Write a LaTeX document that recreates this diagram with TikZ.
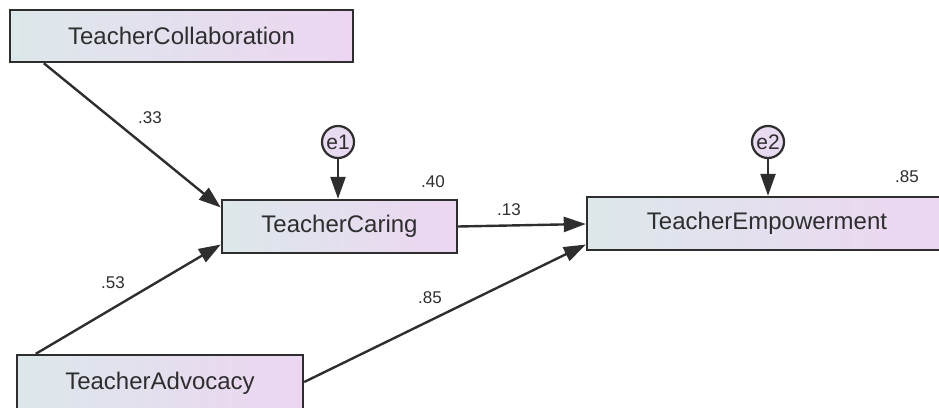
\documentclass[tikz,border=0pt]{standalone}
\usepackage{fontspec}
\setmainfont{Liberation Sans}
\usetikzlibrary{arrows.meta,calc}
\definecolor{inkgray}{HTML}{2E2E2E}
\definecolor{boxleft}{HTML}{DCE8EA}
\definecolor{boxright}{HTML}{EDD6F2}
\definecolor{errfill}{HTML}{E8DAF0}
\tikzset{
  varbox/.style={draw=inkgray, line width=2.4pt, left color=boxleft, right color=boxright,
    shading angle=90, text=inkgray, font=\fontsize{24}{24}\selectfont,
    inner sep=0pt, anchor=center},
  errnode/.style={draw=inkgray, line width=2.2pt, circle, fill=errfill, minimum size=32pt,
    inner sep=0pt, text=inkgray, font=\fontsize{21}{21}\selectfont},
  path/.style={draw=inkgray, line width=2.4pt, -{Triangle[length=22pt,width=15pt]}},
  coef/.style={text=inkgray, font=\fontsize{17}{17}\selectfont, inner sep=0pt}
}
\begin{document}
\begin{tikzpicture}[x=1pt,y=-1pt]
  \useasboundingbox (0,0) rectangle (939,407);
  \clip (0,0) rectangle (939,407);

  % observed variables
  \node[varbox, minimum width=343pt, minimum height=52pt] (coll) at (181.5,36) {TeacherCollaboration};
  \node[varbox, minimum width=235pt, minimum height=53pt] (caring) at (339.5,226.5) {TeacherCaring};
  \node[varbox, minimum width=360pt, minimum height=53pt] (emp) at (767,223.5) {TeacherEmpowerment};
  \node[varbox, minimum width=286pt, minimum height=56pt] (adv) at (160,383) {TeacherAdvocacy};

  % error terms
  \node[errnode] (e1) at (338,142) {e1};
  \node[errnode] (e2) at (768,142) {e2};

  % regression paths
  \draw[path] ($(coll.south west)+(35,0)$) -- ($(caring.west)+(0,-19)$);
  \draw[path] ($(adv.north west)+(20,0)$) -- ($(caring.west)+(0,18)$);
  \draw[path] (caring.east) -- ($(emp.west)+(0,0.5)$);
  \draw[path] ($(adv.east)+(0,-1)$) -- ($(emp.west)+(0,21)$);
  \draw[path] (e1) -- (e1 |- caring.north);
  \draw[path] (e2) -- (e2 |- emp.north);

  % coefficients
  \node[coef] (c33) at (150,118) {.33};
  \node[coef] (c53) at (113,283) {.53};
  \node[coef] (c13) at (509,210) {.13};
  \node[coef] (c85a) at (430,298) {.85};
  \node[coef] (r40) at (433,182) {.40};
  \node[coef] (r85) at (907,177) {.85};
\end{tikzpicture}
\end{document}
